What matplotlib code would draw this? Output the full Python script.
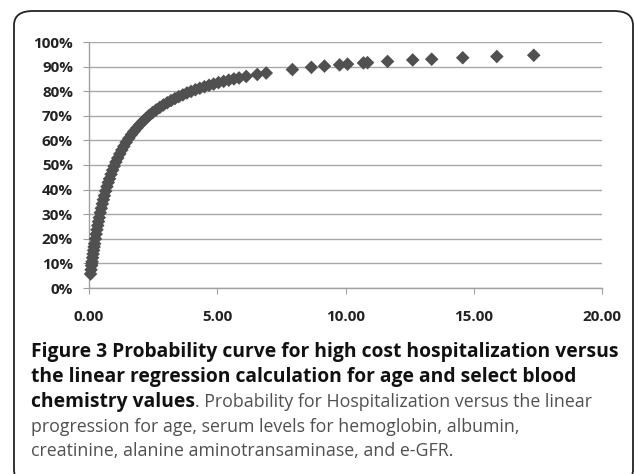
"""
Curva de probabilidade de hospitalização de alto custo vs. cálculo da regressão linear.
"""

import matplotlib
matplotlib.use("Agg")
import matplotlib.pyplot as plt
from matplotlib.patches import FancyBboxPatch
from matplotlib.ticker import FuncFormatter, MultipleLocator

# valores (eixo x: cálculo da regressão, eixo y: probabilidade em %)
regressao = [
    0.06, 0.08, 0.10, 0.11, 0.12, 0.14, 0.16, 0.18, 0.20, 0.22,
    0.25, 0.28, 0.31, 0.34, 0.37, 0.40, 0.44, 0.48, 0.52, 0.56,
    0.60, 0.65, 0.70, 0.75, 0.80, 0.86, 0.92, 0.98, 1.05, 1.12,
    1.20, 1.28, 1.36, 1.45, 1.55, 1.65, 1.75, 1.86, 1.98, 2.10,
    2.22, 2.35, 2.48, 2.62, 2.76, 2.90, 3.05, 3.20, 3.35, 3.50,
    3.66, 3.82, 3.98, 4.15, 4.32, 4.50, 4.68, 4.86, 5.05, 5.25,
    5.45, 5.65, 5.85, 6.13, 6.56, 6.91, 7.93, 8.67, 9.18, 9.77,
    10.08, 10.70, 10.86, 11.64, 12.62, 13.36, 14.57, 15.90, 17.34,
]
probabilidade = [
    5.7, 7.4, 9.1, 9.9, 10.7, 12.3, 13.8, 15.3, 16.7, 18.0,
    20.0, 21.9, 23.7, 25.4, 27.0, 28.6, 30.6, 32.4, 34.2, 35.9,
    37.5, 39.4, 41.2, 42.9, 44.4, 46.2, 47.9, 49.5, 51.2, 52.8,
    54.5, 56.1, 57.6, 59.2, 60.8, 62.3, 63.6, 65.0, 66.4, 67.7,
    68.9, 70.2, 71.3, 72.4, 73.4, 74.4, 75.3, 76.2, 77.0, 77.8,
    78.5, 79.3, 79.9, 80.6, 81.2, 81.8, 82.4, 82.9, 83.5, 84.0,
    84.5, 85.0, 85.4, 86.0, 86.8, 87.4, 88.8, 89.7, 90.2, 90.7,
    91.0, 91.5, 91.6, 92.1, 92.7, 93.0, 93.6, 94.1, 94.6,
]

legenda_negrito_1 = "Figure 3 Probability curve for high cost hospitalization versus"
legenda_negrito_2 = "the linear regression calculation for age and select blood"
legenda_negrito_3 = "chemistry values"
legenda_normal_3 = ". Probability for Hospitalization versus the linear"
legenda_normal_4 = "progression for age, serum levels for hemoglobin, albumin,"
legenda_normal_5 = "creatinine, alanine aminotransaminase, and e-GFR."

W, H = 636, 474
fig = plt.figure(figsize=(W / 100, H / 100), dpi=100)

# moldura arredondada
moldura = FancyBboxPatch((14 / W, 0.0 - 10 / H), (633 - 14) / W, (H - 11 + 10) / H,
                         boxstyle="round,pad=0,rounding_size=0.03",
                         transform=fig.transFigure, facecolor="none",
                         edgecolor="#222222", linewidth=1.3, zorder=-1)
fig.patches.append(moldura)

ax = fig.add_axes([89 / W, 1 - 288 / H, (602 - 89) / W, (288 - 42) / H])
ax.set_facecolor("none")

ax.scatter(regressao, probabilidade, marker="D", s=48, color="#505050",
           edgecolors="none", zorder=3, clip_on=False)

ax.set_xlim(0, 20)
ax.set_ylim(0, 100)
ax.xaxis.set_major_locator(MultipleLocator(5))
ax.yaxis.set_major_locator(MultipleLocator(10))
ax.xaxis.set_major_formatter(FuncFormatter(lambda v, p: f"{v:.2f}"))
ax.yaxis.set_major_formatter(FuncFormatter(lambda v, p: f"{v:.0f}%"))

ax.grid(axis="y", color="#a8a8a8", linewidth=1)
ax.set_axisbelow(True)
for lado in ["top", "right"]:
    ax.spines[lado].set_visible(False)
for lado in ["left", "bottom"]:
    ax.spines[lado].set_color("#a0a0a0")
    ax.spines[lado].set_linewidth(1)

ax.tick_params(axis="x", direction="out", length=4, color="#a0a0a0", pad=12)
ax.tick_params(axis="y", direction="out", length=4.5, color="#a0a0a0", pad=7)
for rotulo in ax.get_xticklabels() + ax.get_yticklabels():
    rotulo.set_fontfamily("Open Sans")
    rotulo.set_fontweight("bold")
    rotulo.set_fontsize(11)
    rotulo.set_color("#222222")

# legenda da figura
x0 = 31 / W
negrito = dict(family="Open Sans", fontsize=13.9, weight="bold", color="#111111", va="center")
normal = dict(family="Open Sans", fontsize=12.8, color="#505050", va="center")
fig.text(x0, 1 - 352 / H, legenda_negrito_1, **negrito)
fig.text(x0, 1 - 377 / H, legenda_negrito_2, **negrito)
t3 = fig.text(x0, 1 - 402 / H, legenda_negrito_3, **negrito)
ax.annotate(legenda_normal_3, xy=(1, 0.5), xycoords=t3, va="center", ha="left",
            family="Open Sans", fontsize=12.8, color="#505050",
            annotation_clip=False)
fig.text(x0, 1 - 427 / H, legenda_normal_4, **normal)
fig.text(x0, 1 - 451 / H, legenda_normal_5, **normal)

fig.savefig("out.png", dpi=100)
